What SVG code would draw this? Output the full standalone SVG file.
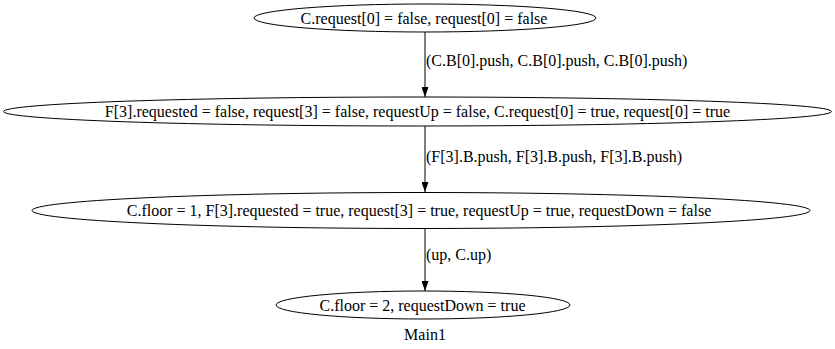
<svg xmlns="http://www.w3.org/2000/svg" width="835" height="349" viewBox="0 0 835 349">
<style>
text{font-family:"Liberation Serif","Times New Roman",serif;font-size:16px;fill:#000}
.n ellipse{fill:none;stroke:#000;stroke-width:1}
.c text{text-anchor:start}
.n text{text-anchor:middle}
.c path{stroke:#000;stroke-width:1;fill:none}
</style>
<defs>
<marker id="ah" markerWidth="10" markerHeight="7" refX="10" refY="3.5" orient="auto" markerUnits="userSpaceOnUse">
<path d="M0,0 L10,3.5 L0,7 Z" fill="#000"/>
</marker>
</defs>
<rect width="835" height="349" fill="#fff"/>
<g class="c" id="connectors">
<path d="M425,32 L425,97" marker-end="url(#ah)"/>
<text x="426" y="66">(C.B[0].push, C.B[0].push, C.B[0].push)</text>
<path d="M425,126 L425,192" marker-end="url(#ah)"/>
<text x="426" y="162">(F[3].B.push, F[3].B.push, F[3].B.push)</text>
<path d="M425,229 L425,291" marker-end="url(#ah)"/>
<text x="426" y="260">(up, C.up)</text>
</g>
<g class="n" id="n1">
<ellipse cx="425" cy="18" rx="171" ry="14"/>
<text x="424" y="23.5">C.request[0] = false, request[0] = false</text>
</g>
<g class="n" id="n2">
<ellipse cx="417.5" cy="111.5" rx="414" ry="14.5"/>
<text x="417.5" y="117">F[3].requested = false, request[3] = false, requestUp = false, C.request[0] = true, request[0] = true</text>
</g>
<g class="n" id="n3">
<ellipse cx="421" cy="210.5" rx="389" ry="18"/>
<text x="419" y="216">C.floor = 1, F[3].requested = true, request[3] = true, requestUp = true, requestDown = false</text>
</g>
<g class="n" id="n4">
<ellipse cx="423" cy="305" rx="147" ry="14"/>
<text x="422.5" y="310.5">C.floor = 2, requestDown = true</text>
</g>
<text x="425" y="340" text-anchor="middle" id="title">Main1</text>
</svg>
